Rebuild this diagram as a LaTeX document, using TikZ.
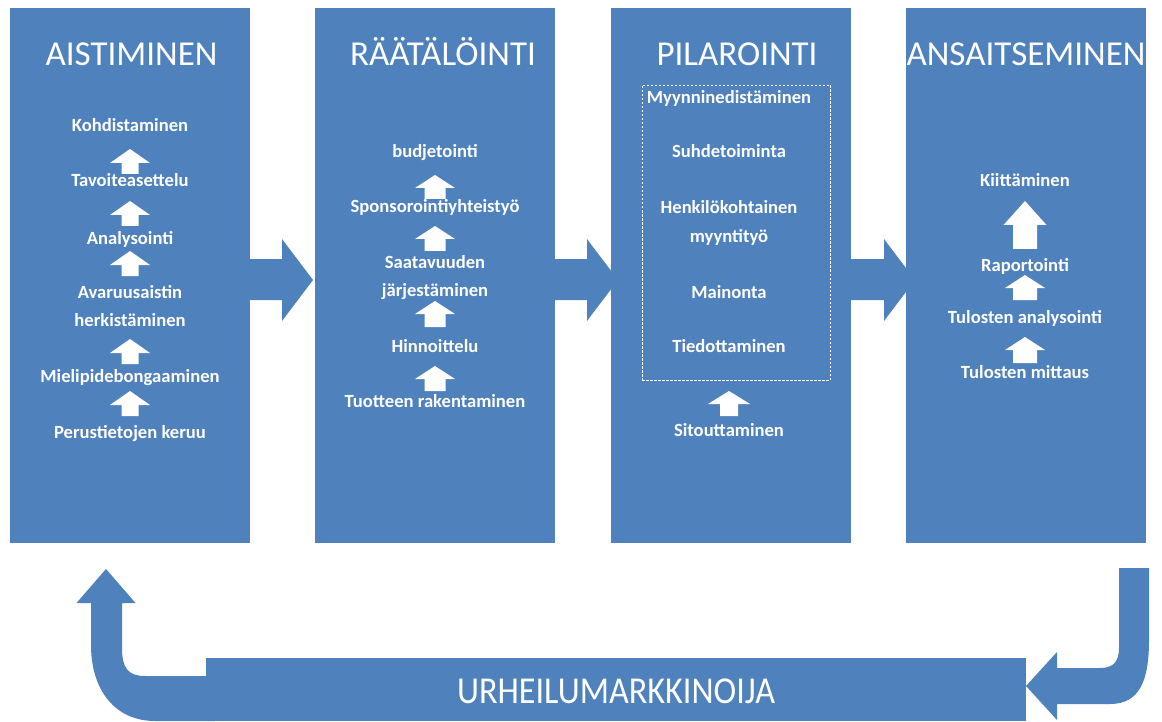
\documentclass[tikz,border=0pt]{standalone}
\usepackage{fontspec}
\usepackage{graphicx}
\setmainfont{Carlito}
\definecolor{stageblue}{RGB}{79,129,189}

% small white block arrow pointing up:
% x, top y, bottom y, head half width, shaft half width, head height
\newcommand\LiftArrow[6]{%
  \fill[liftarrow] (#1,#2) -- ({#1+#4},{#2+#6}) -- ({#1+#5},{#2+#6})
    -- ({#1+#5},#3) -- ({#1-#5},#3) -- ({#1-#5},{#2+#6})
    -- ({#1-#4},{#2+#6}) -- cycle;}

% wide blue block arrow leaving a stage box: box name, head base x
\newcommand\StageArrow[2]{%
  \fill[flow] (#1.east |- 0,259) -- (#2,259) -- (#2,239) -- ({#2+31},280)
    -- (#2,321) -- (#2,300) -- (#1.east |- 0,300) -- cycle;}

\begin{document}
\begin{tikzpicture}[x=1pt,y=-1pt,
  stage/.style={fill=stageblue, draw=none, minimum width=240pt,
    minimum height=535pt, inner sep=0pt},
  flow/.style={fill=stageblue},
  liftarrow/.style={fill=white},
  heading/.style={text=white, font=\fontsize{35}{35}\selectfont,
    anchor=base, inner sep=0pt},
  item/.style={text=white, font=\bfseries\fontsize{18.6}{22}\selectfont,
    anchor=base, inner sep=0pt}]
\useasboundingbox (0,0) rectangle (1162,722);

% the four stages
\node[stage] (b1) at (130,275.5) {};
\node[stage] (b2) at (435,275.5) {};
\node[stage] (b3) at (730.5,275.5) {};
\node[stage] (b4) at (1025.5,275.5) {};

% arrows from stage to stage
\StageArrow{b1}{282}
\StageArrow{b2}{587}
\StageArrow{b3}{884}

% headings
\node[heading] (h1) at (131.5,65.5) {AISTIMINEN};
\node[heading] (h2) at (443,65.5) {RÄÄTÄLÖINTI};
\node[heading] (h3) at (737,65.5) {PILAROINTI};
\node[heading] (h4) at (1026,65.5) {ANSAITSEMINEN};

% stage 1
\node[item] (a1) at (130,132) {Kohdistaminen};
\node[item] (a2) at (130,187) {Tavoiteasettelu};
\node[item] (a3) at (130,244) {Analysointi};
\node[item] (a4) at (130,298) {Avaruusaistin};
\node[item] (a4b) at (130,326) {herkistäminen};
\node[item] (a5) at (130,382) {Mielipidebongaaminen};
\node[item] (a6) at (130,438) {Perustietojen keruu};
\LiftArrow{130}{149}{174}{20}{8.5}{14}
\LiftArrow{130}{201}{226}{20}{8.5}{14}
\LiftArrow{130}{251}{276}{20}{8.5}{14}
\LiftArrow{130}{339}{364}{20}{8.5}{14}
\LiftArrow{130}{391}{416}{20}{8.5}{14}

% stage 2
\node[item] (r1) at (435,158) {budjetointi};
\node[item] (r2) at (435,213) {Sponsorointiyhteistyö};
\node[item] (r3) at (435,269) {Saatavuuden};
\node[item] (r3b) at (435,296) {järjestäminen};
\node[item] (r4) at (435,352) {Hinnoittelu};
\node[item] (r5) at (435,407) {Tuotteen rakentaminen};
\LiftArrow{435}{175}{199}{20}{10.5}{13}
\LiftArrow{435}{226}{251}{20}{10.5}{13}
\LiftArrow{435}{301}{327}{20}{10.5}{13}
\LiftArrow{435}{366}{391}{20}{10.5}{13}

% stage 3
\node[draw=white, line width=0.9pt, dash pattern=on 2.5pt off 1.5pt,
  minimum width=188pt, minimum height=295pt, inner sep=0pt]
  (promo) at (736,232.5) {};
\node[item] (p1) at (729,103.5) {Myynninedistäminen};
\node[item] (p2) at (729,158) {Suhdetoiminta};
\node[item] (p3) at (729,214) {Henkilökohtainen};
\node[item] (p3b) at (729,243) {myyntityö};
\node[item] (p4) at (729,298) {Mainonta};
\node[item] (p5) at (729,352) {Tiedottaminen};
\node[item] (p6) at (729,436) {Sitouttaminen};
\LiftArrow{729}{391}{416}{21}{9}{13}

% stage 4
\node[item] (e1) at (1025,187) {Kiittäminen};
\node[item] (e2) at (1025,271) {Raportointi};
\node[item] (e3) at (1025,323) {Tulosten analysointi};
\node[item] (e4) at (1025,378) {Tulosten mittaus};
\LiftArrow{1025}{201}{249}{21.5}{12}{24}
\LiftArrow{1025}{275}{300}{20}{12}{13}
\LiftArrow{1025}{337}{363}{20}{12}{13}

% feedback loop under the stages
\fill[flow] (106,569) -- (135.5,603) -- (122,603) -- (122,648)
  .. controls (122,668) and (128,676) .. (145,676) -- (215,676)
  -- (215,721) -- (155,721)
  .. controls (115,721) and (91,690) .. (91,645) -- (91,603)
  -- (76.5,603) -- cycle;
\fill[flow] (1119,568) -- (1149,568) -- (1149,640)
  .. controls (1149,680) and (1140,704) .. (1110,704) -- (1057,704)
  -- (1057,720) -- (1026,686) -- (1057,652) -- (1057,668) -- (1100,668)
  .. controls (1113,668) and (1119,662) .. (1119,648) -- cycle;

\node[fill=stageblue, minimum width=820pt, minimum height=63pt,
  inner sep=0pt] (bar) at (616,689.5) {};
\node[text=white, anchor=base, inner sep=0pt] (barlabel) at (616,703)
  {\scalebox{0.9}[1]{\fontsize{38}{38}\selectfont URHEILUMARKKINOIJA}};
\end{tikzpicture}
\end{document}
